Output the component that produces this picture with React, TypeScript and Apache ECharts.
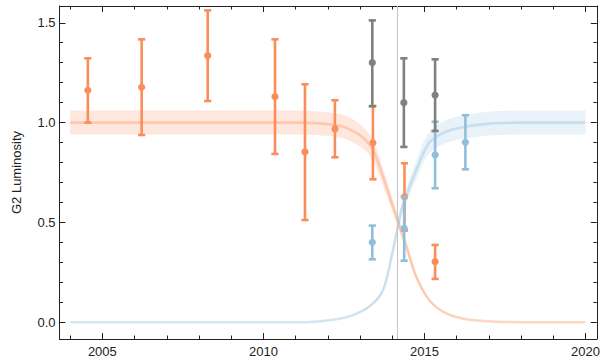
import React, { useEffect, useRef } from "react";
import * as echarts from "echarts";

// ---- axis ranges & ticks ----
const xMin = 2003.67;
const xMax = 2020.35;
const yMin = -0.084;
const yMax = 1.584;
const xMajorTicks = [2005, 2010, 2015, 2020];
const xMinorTicks = [2004, 2006, 2007, 2008, 2009, 2011, 2012, 2013, 2014, 2016, 2017, 2018, 2019];
const yMajorTicks = [0, 0.5, 1.0, 1.5];
const yMinorTicks = [0.1, 0.2, 0.3, 0.4, 0.6, 0.7, 0.8, 0.9, 1.1, 1.2, 1.3, 1.4];
const yAxisName = "G2 Luminosity";
const vlineYear = 2014.15;

// ---- model curves ----
const orangeCurve: [number, number][] = [
  [2004, 1.0], [2005, 1.0], [2007, 1.0], [2009, 1.0], [2011.0, 1.0], [2011.8, 0.995], [2012.4, 0.983], [2012.7, 0.965],
  [2013.05, 0.93], [2013.4, 0.865], [2013.71, 0.73], [2014.02, 0.58], [2014.44, 0.38],
  [2014.74, 0.23], [2015.15, 0.11], [2015.67, 0.045], [2016.4, 0.012], [2017.3, 0.002], [2018.5, 0.0], [2019.3, 0.0], [2020, 0.0],
];
const blueCurve: [number, number][] = [
  [2004, 0.0], [2005, 0.0], [2007, 0.0], [2009, 0.0], [2011.3, 0.0], [2012.06, 0.01], [2012.68, 0.03], [2013.3, 0.08],
  [2013.71, 0.16], [2014.02, 0.36], [2014.28, 0.56], [2014.43, 0.63], [2014.74, 0.76],
  [2015.15, 0.9], [2015.67, 0.955], [2016.28, 0.98], [2017.0, 0.995], [2018, 1.0], [2019, 1.0], [2020, 1.0],
];
const bandFraction = 0.06;

// ---- observations ----
const orangeYears = [2004.55, 2006.22, 2008.27, 2010.36, 2011.29, 2012.22, 2013.4, 2014.38, 2015.33];
const orangeValues = [1.162, 1.177, 1.335, 1.13, 0.853, 0.968, 0.899, 0.628, 0.303];
const orangeLower = [1.0, 0.938, 1.108, 0.843, 0.512, 0.826, 0.716, 0.459, 0.217];
const orangeUpper = [1.322, 1.417, 1.562, 1.417, 1.192, 1.112, 1.083, 0.796, 0.387];

const grayYears = [2013.38, 2014.36, 2015.33];
const grayValues = [1.3, 1.1, 1.137];
const grayLower = [1.082, 0.878, 0.958];
const grayUpper = [1.512, 1.322, 1.317];

const blueYears = [2013.38, 2014.37, 2015.33, 2016.27];
const blueValues = [0.4, 0.47, 0.838, 0.901];
const blueLower = [0.315, 0.308, 0.671, 0.766];
const blueUpper = [0.484, 0.629, 1.004, 1.037];

const ORANGE = "#fc8d59";
const BLUE = "#91bfdb";
const GRAY = "#808080";
const AXIS = "#222222";
const FONT = "Liberation Sans, Arial, sans-serif";
const NO_CONSTRAINT = [[Infinity, Infinity], [-Infinity, -Infinity]];

function errorBarSeries(name: string, xs: number[], ys: number[], lo: number[], hi: number[], color: string, z: number) {
  return {
    type: "custom",
    name,
    z,
    xAxisIndex: 0,
    yAxisIndex: 0,
    data: xs.map((x, i) => [x, ys[i], lo[i], hi[i]]),
    encode: { x: 0, y: [1, 2, 3] },
    renderItem: (params: any, api: any) => {
      const x = api.value(0);
      const p = api.coord([x, api.value(1)]);
      const pl = api.coord([x, api.value(2)]);
      const ph = api.coord([x, api.value(3)]);
      const cap = 3.6;
      const lw = 2.6;
      return {
        type: "group",
        children: [
          { type: "line", shape: { x1: p[0], y1: pl[1], x2: p[0], y2: ph[1] }, style: { stroke: color, lineWidth: lw } },
          { type: "line", shape: { x1: p[0] - cap, y1: ph[1], x2: p[0] + cap, y2: ph[1] }, style: { stroke: color, lineWidth: lw } },
          { type: "line", shape: { x1: p[0] - cap, y1: pl[1], x2: p[0] + cap, y2: pl[1] }, style: { stroke: color, lineWidth: lw } },
          { type: "circle", shape: { cx: p[0], cy: p[1], r: 3.6 }, style: { fill: color } },
        ],
      };
    },
  };
}

// duplicate end points (when the band has height there) so smoothing keeps square ends
function withSquareEnds(pts: number[][], keep: boolean[]) {
  const out: number[][] = [];
  pts.forEach((p, i) => {
    out.push(p);
    if (keep[i]) out.push([p[0], p[1]]);
  });
  return out;
}

function modelSeries(name: string, curve: [number, number][], lineColor: string, bandColor: string, z: number) {
  return {
    type: "custom",
    name,
    z,
    silent: true,
    xAxisIndex: 0,
    yAxisIndex: 0,
    data: curve,
    encode: { x: 0, y: 1 },
    renderItem: (params: any, api: any) => {
      if (params.dataIndex !== 0) return null;
      const n = curve.length;
      const ends = curve.map(([, v], i) => (i === 0 || i === n - 1) && v !== 0);
      const upper = withSquareEnds(curve.map(([x, v]) => api.coord([x, v * (1 + bandFraction)])), ends);
      const lower = withSquareEnds(
        curve.map(([x, v]) => api.coord([x, v * (1 - bandFraction)])),
        ends
      ).reverse();
      const mid = curve.map(([x, v]) => api.coord([x, v]));
      return {
        type: "group",
        children: [
          {
            type: "polygon",
            shape: { points: [...upper, ...lower], smooth: 0.3, smoothConstraint: NO_CONSTRAINT },
            style: { fill: bandColor },
          },
          {
            type: "polyline",
            shape: { points: mid, smooth: 0.3, smoothConstraint: NO_CONSTRAINT },
            style: { stroke: lineColor, lineWidth: 2.6, fill: null },
          },
        ],
      };
    },
  };
}

export default function App() {
  const ref = useRef<HTMLDivElement>(null);
  useEffect(() => {
    if (!ref.current) return;
    const chart = echarts.init(ref.current, undefined, { renderer: "svg" });
    const xCommon = { type: "value", min: xMin, max: xMax, splitLine: { show: false } };
    const yCommon = { type: "value", min: yMin, max: yMax, splitLine: { show: false } };
    const line = (show: boolean) => ({ show, onZero: false, lineStyle: { color: AXIS, width: 1 } });
    const option: any = {
      animation: false,
      backgroundColor: "#ffffff",
      grid: { left: 59.5, right: 5, top: 6, bottom: 21, containLabel: false },
      xAxis: [
        {
          ...xCommon,
          position: "bottom",
          axisLine: line(true),
          axisTick: { show: true, inside: true, length: 6, customValues: xMajorTicks, lineStyle: { color: AXIS } },
          axisLabel: {
            show: true,
            customValues: xMajorTicks,
            margin: 6,
            color: AXIS,
            fontSize: 13,
            fontFamily: FONT,
            formatter: (v: number) => String(Math.round(v)),
          },
        },
        {
          ...xCommon,
          position: "bottom",
          axisLine: line(false),
          axisTick: { show: true, inside: true, length: 3.5, customValues: xMinorTicks, lineStyle: { color: AXIS } },
          axisLabel: { show: false },
        },
        {
          ...xCommon,
          position: "top",
          axisLine: line(true),
          axisTick: { show: true, inside: true, length: 6, customValues: xMajorTicks, lineStyle: { color: AXIS } },
          axisLabel: { show: false },
        },
        {
          ...xCommon,
          position: "top",
          axisLine: line(false),
          axisTick: { show: true, inside: true, length: 3.5, customValues: xMinorTicks, lineStyle: { color: AXIS } },
          axisLabel: { show: false },
        },
      ],
      yAxis: [
        {
          ...yCommon,
          position: "left",
          name: yAxisName,
          nameLocation: "middle",
          nameRotate: 90,
          nameGap: 37,
          nameTextStyle: { color: AXIS, fontSize: 13, fontFamily: FONT },
          axisLine: line(true),
          axisTick: { show: true, inside: true, length: 6, customValues: yMajorTicks, lineStyle: { color: AXIS } },
          axisLabel: {
            show: true,
            customValues: yMajorTicks,
            margin: 4,
            color: AXIS,
            fontSize: 13,
            fontFamily: FONT,
            formatter: (v: number) => v.toFixed(1),
          },
        },
        {
          ...yCommon,
          position: "left",
          axisLine: line(false),
          axisTick: { show: true, inside: true, length: 3.5, customValues: yMinorTicks, lineStyle: { color: AXIS } },
          axisLabel: { show: false },
        },
        {
          ...yCommon,
          position: "right",
          axisLine: line(true),
          axisTick: { show: true, inside: true, length: 6, customValues: yMajorTicks, lineStyle: { color: AXIS } },
          axisLabel: { show: false },
        },
        {
          ...yCommon,
          position: "right",
          axisLine: line(false),
          axisTick: { show: true, inside: true, length: 3.5, customValues: yMinorTicks, lineStyle: { color: AXIS } },
          axisLabel: { show: false },
        },
      ],
      series: [
        modelSeries("orange model", orangeCurve, "rgba(252,141,89,0.35)", "rgba(252,141,89,0.2)", 1),
        modelSeries("blue model", blueCurve, "rgba(145,191,219,0.38)", "rgba(145,191,219,0.2)", 2),
        {
          type: "line",
          xAxisIndex: 0,
          yAxisIndex: 0,
          data: [],
          markLine: {
            silent: true,
            symbol: "none",
            label: { show: false },
            lineStyle: { color: "#c4c4c4", width: 1, type: "solid" },
            data: [{ xAxis: vlineYear }],
          },
          z: 3,
        },
        errorBarSeries("orange", orangeYears, orangeValues, orangeLower, orangeUpper, ORANGE, 4),
        errorBarSeries("blue", blueYears, blueValues, blueLower, blueUpper, BLUE, 5),
        errorBarSeries("gray", grayYears, grayValues, grayLower, grayUpper, GRAY, 6),
      ],
    };
    chart.setOption(option);
    return () => chart.dispose();
  }, []);
  return (
    <div
      ref={ref}
      style={{ position: "absolute", left: 0, top: 0, width: 603, height: 360 }}
    />
  );
}
